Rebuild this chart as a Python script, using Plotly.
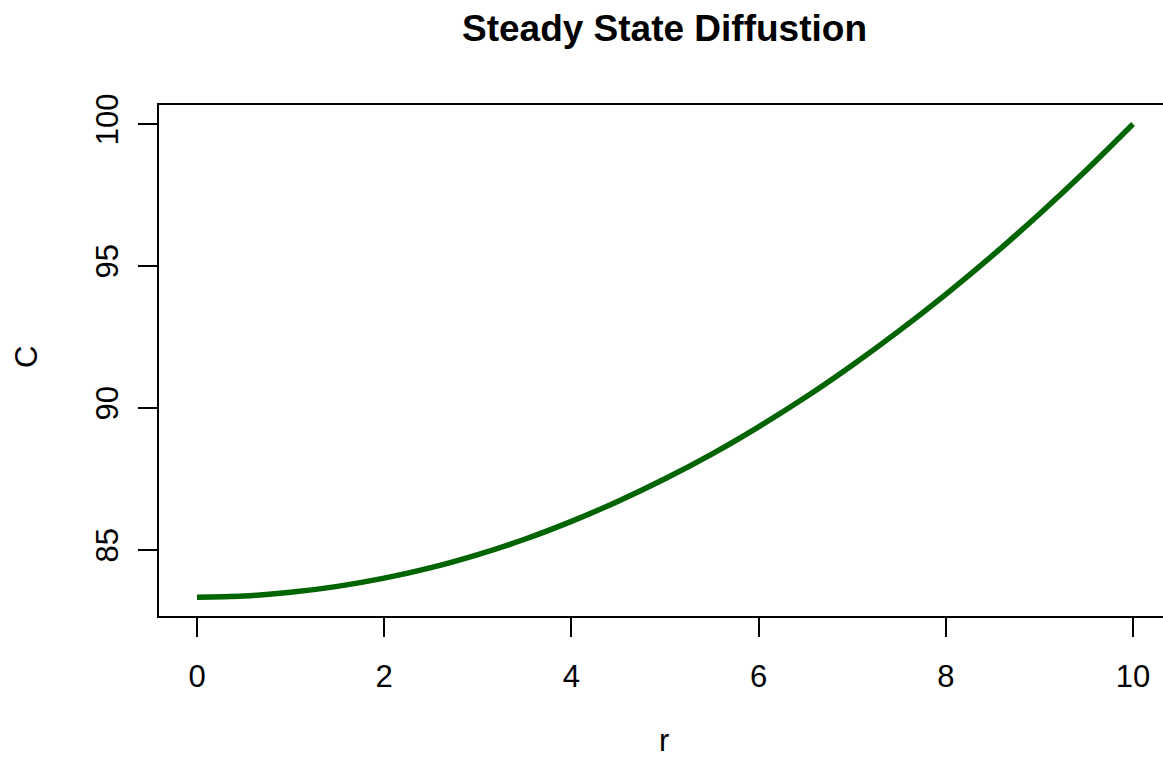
import plotly.graph_objects as go

r_vals = [0, 0.5, 1, 1.5, 2, 2.5, 3, 3.5, 4, 4.5, 5, 5.5, 6, 6.5, 7, 7.5, 8, 8.5, 9, 9.5, 10]
c_vals = [83.33, 83.37, 83.50, 83.71, 84.00, 84.37, 84.83, 85.37, 86.00, 86.71, 87.50,
          88.37, 89.33, 90.37, 91.50, 92.71, 94.00, 95.37, 96.83, 98.37, 100.00]
x_ticks = [0, 2, 4, 6, 8, 10]
y_ticks = [85, 90, 95, 100]

FONT = "Liberation Sans, Arial, sans-serif"

fig = go.Figure()
fig.add_trace(go.Scatter(x=r_vals, y=c_vals, mode="lines", line=dict(color="#006400", width=5.5, shape="spline"),
                         hoverinfo="skip"))

W, H = 1163, 763
L, R, T, B = 159, 0, 105, 147

fig.update_layout(
    width=W, height=H,
    margin=dict(l=L, r=R, t=T, b=B, autoexpand=False),
    paper_bgcolor="white", plot_bgcolor="white",
    showlegend=False,
    font=dict(family=FONT, color="black", size=31),
    title=dict(text="<b>Steady State Diffustion</b>", font=dict(family=FONT, size=37, color="black"),
               xref="paper", x=0.5035, xanchor="center", yref="container", y=1 - 28 / H, yanchor="middle"),
)
fig.update_xaxes(range=[-0.406, 10.32], tickvals=x_ticks, ticktext=[str(v) for v in x_ticks],
                 showgrid=False, zeroline=False, showline=True, mirror=True, linecolor="black", linewidth=1.5,
                 ticks="outside", ticklen=19, tickwidth=1.5, tickcolor="black",
                 tickfont=dict(family=FONT, size=31, color="black"), ticklabelstandoff=13)
fig.update_yaxes(range=[82.667, 100.667], tickvals=y_ticks, ticktext=[str(v) for v in y_ticks],
                 showgrid=False, zeroline=False, showline=True, mirror=True, linecolor="black", linewidth=1.5,
                 ticks="outside", ticklen=19, tickwidth=1.5, tickcolor="black", tickangle=-90,
                 tickfont=dict(family=FONT, size=31, color="black"), ticklabelstandoff=8)

fig.add_annotation(text="r", xref="paper", yref="paper", x=(664 - L) / (W - L - R), y=-(740 - (H - B)) / (H - T - B),
                   showarrow=False, xanchor="center", yanchor="middle", font=dict(family=FONT, size=31, color="black"))
fig.add_annotation(text="C", xref="paper", yref="paper", x=-(L - 26) / (W - L - R), y=(H - B - 357) / (H - T - B),
                   textangle=-90, showarrow=False, xanchor="center", yanchor="middle",
                   font=dict(family=FONT, size=31, color="black"))

fig.write_html("out.html")
